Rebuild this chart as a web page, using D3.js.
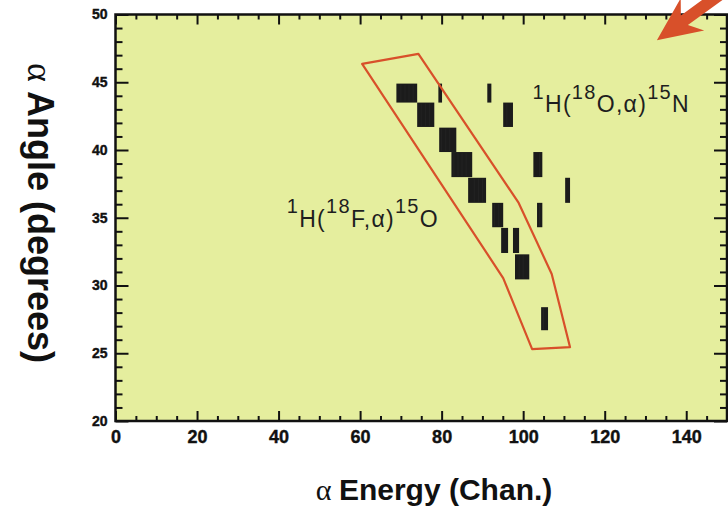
<!DOCTYPE html>
<html>
<head>
<meta charset="utf-8">
<script src="https://cdn.jsdelivr.net/npm/d3@7/dist/d3.min.js"></script>
<style>
  html, body { margin: 0; padding: 0; background: #ffffff; }
  svg { display: block; }
</style>
</head>
<body>
<svg id="chart" width="728" height="516"></svg>
<script>
// Axis ticks
const energyMajorTicks = [0, 20, 40, 60, 80, 100, 120, 140];
const angleMajorTicks = [20, 25, 30, 35, 40, 45, 50];

// Occupied histogram cells: energy range (channels) and angle range (degrees)
const cellEnergyLo = [68.9, 79.2, 91.2, 74.0, 95.1, 79.4, 82.4, 102.5, 86.5, 110.3, 92.4, 103.4, 94.6, 97.5, 98.0, 104.4];
const cellEnergyHi = [74.0, 80.1, 92.2, 78.2, 97.5, 83.6, 87.5, 104.7, 90.9, 111.5, 95.1, 104.7, 96.3, 99.0, 101.5, 106.1];
const cellAngleLo  = [43.5, 43.5, 43.5, 41.7, 41.7, 39.85, 38.0, 38.0, 36.1, 36.1, 34.3, 34.3, 32.4, 32.4, 30.45, 26.7];
const cellAngleHi  = [44.9, 44.9, 44.9, 43.5, 43.5, 41.65, 39.85, 39.85, 37.95, 37.95, 36.1, 36.1, 34.25, 34.25, 32.3, 28.4];

// Gate around the 1H(18F,a)15O locus
const gateEnergy = [60.5, 74.3, 98.9, 107.0, 111.5, 102.2, 95.1];
const gateAngle  = [46.35, 47.1, 36.09, 30.85, 25.45, 25.3, 30.55];

// Reaction labels (pieces flagged as superscript)
const labelReactionF = [["1", true], ["H(", false], ["18", true], ["F,\u03b1)", false], ["15", true], ["O", false]];
const labelReactionO = [["1", true], ["H(", false], ["18", true], ["O,\u03b1)", false], ["15", true], ["N", false]];
const labelEnergy = [42.0, 102.3];
const labelAngle  = [34.32, 42.8];

const svg = d3.select("#chart");
const x = d3.scaleLinear().domain([0, 150]).range([115.5, 727]);
const y = d3.scaleLinear().domain([20, 50]).range([421, 14.5]);

const ink = "#111111";
const gateRed = "#d8502a";

// plot background
svg.append("rect")
  .attr("x", x(0)).attr("y", y(50))
  .attr("width", x(150) - x(0)).attr("height", y(20) - y(50))
  .attr("fill", "#e5ee9e");

// histogram cells
const cells = d3.range(cellEnergyLo.length).map(i => ({
  e0: cellEnergyLo[i], e1: cellEnergyHi[i], a0: cellAngleLo[i], a1: cellAngleHi[i]
}));
svg.append("g").selectAll("rect").data(cells).join("rect")
  .attr("x", d => x(d.e0)).attr("y", d => y(d.a1))
  .attr("width", d => x(d.e1) - x(d.e0)).attr("height", d => y(d.a0) - y(d.a1))
  .attr("fill", "#1b1b1b");
// faint channel grid inside the cells
svg.append("g").selectAll("line").data(cells.flatMap(d => {
  const out = [];
  for (let e = Math.ceil(d.e0 + 0.6); e < d.e1 - 0.6; e += 1) out.push({ e, a0: d.a0, a1: d.a1 });
  return out;
})).join("line")
  .attr("x1", d => x(d.e)).attr("x2", d => x(d.e))
  .attr("y1", d => y(d.a1) + 1).attr("y2", d => y(d.a0) - 1)
  .attr("stroke", "#2b2b2b").attr("stroke-width", 0.5);

// gate polygon
svg.append("path")
  .datum(gateEnergy.map((e, i) => [x(e), y(gateAngle[i])]))
  .attr("d", d => d3.line()(d) + "Z")
  .attr("fill", "none").attr("stroke", gateRed).attr("stroke-width", 2.2)
  .attr("stroke-linejoin", "round");

// reaction labels
function reaction(pieces, e, a) {
  const t = svg.append("text")
    .attr("x", x(e)).attr("y", y(a))
    .attr("font-family", "Liberation Sans, Arial, Helvetica, sans-serif")
    .attr("fill", "#1e1e1e")
    .attr("letter-spacing", "1.3px");
  let raised = false;
  pieces.forEach(([s, sup]) => {
    const ts = t.append("tspan").text(s).attr("font-size", sup ? 20 : 23);
    if (sup && !raised) { ts.attr("dy", -13.5); raised = true; }
    else if (!sup && raised) { ts.attr("dy", 13.5); raised = false; }
  });
}
reaction(labelReactionF, labelEnergy[0], labelAngle[0]);
reaction(labelReactionO, labelEnergy[1], labelAngle[1]);

// ticks (all pointing into the plot)
const energyMinor = d3.range(0, 151, 5).filter(v => energyMajorTicks.indexOf(v) < 0);
const angleMinor = d3.range(20, 51, 1).filter(v => angleMajorTicks.indexOf(v) < 0);

function styleAxis(g) {
  g.select(".domain").remove();
  g.selectAll(".tick line").attr("stroke", ink).attr("stroke-width", 2);
}

svg.append("g").attr("transform", `translate(0,${y(20)})`)
  .call(d3.axisBottom(x).tickValues(energyMajorTicks).tickSizeInner(-10).tickSizeOuter(0).tickPadding(9))
  .call(styleAxis)
  .call(g => g.selectAll(".tick text")
    .attr("font-family", "Liberation Sans Narrow, Arial Narrow, Liberation Sans, sans-serif")
    .attr("font-weight", "bold").attr("font-size", 18).attr("fill", ink)
    .attr("stroke", ink).attr("stroke-width", 0.4));
svg.append("g").attr("transform", `translate(0,${y(20)})`)
  .call(d3.axisBottom(x).tickValues(energyMinor).tickSize(-5).tickFormat(""))
  .call(styleAxis);
svg.append("g").attr("transform", `translate(0,${y(50)})`)
  .call(d3.axisTop(x).tickValues(energyMajorTicks).tickSize(-10).tickFormat(""))
  .call(styleAxis);
svg.append("g").attr("transform", `translate(0,${y(50)})`)
  .call(d3.axisTop(x).tickValues(energyMinor).tickSize(-5).tickFormat(""))
  .call(styleAxis);

svg.append("g").attr("transform", `translate(${x(0)},0)`)
  .call(d3.axisLeft(y).tickValues(angleMajorTicks).tickSizeInner(-13).tickSizeOuter(0).tickPadding(8))
  .call(styleAxis)
  .call(g => g.selectAll(".tick text")
    .attr("font-family", "Liberation Sans, Arial, sans-serif")
    .attr("font-weight", "bold").attr("font-size", 14).attr("fill", ink)
    .attr("stroke", ink).attr("stroke-width", 0.4));
svg.append("g").attr("transform", `translate(${x(0)},0)`)
  .call(d3.axisLeft(y).tickValues(angleMinor).tickSize(-7).tickFormat(""))
  .call(styleAxis);
svg.append("g").attr("transform", `translate(${x(150)},0)`)
  .call(d3.axisRight(y).tickValues(angleMajorTicks).tickSize(-13).tickFormat(""))
  .call(styleAxis);
svg.append("g").attr("transform", `translate(${x(150)},0)`)
  .call(d3.axisRight(y).tickValues(angleMinor).tickSize(-7).tickFormat(""))
  .call(styleAxis);

// frame
svg.append("rect")
  .attr("x", x(0)).attr("y", y(50))
  .attr("width", x(150) - x(0)).attr("height", y(20) - y(50))
  .attr("fill", "none").attr("stroke", ink).attr("stroke-width", 2.5);

// pointer arrow in the top-right corner
const arrowTip = [132.8, 48.1];
const arrowAngle = -36 * Math.PI / 180;
const arrowShape = [[0, 0], [44, -20], [34, -6], [140, -6], [140, 6], [34, 6], [44, 20]];
const ca = Math.cos(arrowAngle), sa = Math.sin(arrowAngle);
svg.append("path")
  .datum(arrowShape.map(([u, v]) => [x(arrowTip[0]) + u * ca - v * sa, y(arrowTip[1]) + u * sa + v * ca]))
  .attr("d", d => d3.line()(d) + "Z")
  .attr("fill", gateRed);

// axis titles
const xTitle = svg.append("text")
  .attr("x", 434).attr("y", 500)
  .attr("text-anchor", "middle")
  .attr("font-family", "Liberation Sans, Arial, sans-serif")
  .attr("font-weight", "bold").attr("font-size", 30).attr("fill", ink);
xTitle.append("tspan").text("\u03b1 ").attr("font-family", "Liberation Serif, serif").attr("font-weight", "normal");
xTitle.append("tspan").text("Energy (Chan.)");

const yTitle = svg.append("text")
  .attr("transform", "translate(28,213) rotate(90)")
  .attr("text-anchor", "middle")
  .attr("font-family", "Liberation Sans, Arial, sans-serif")
  .attr("font-weight", "bold").attr("font-size", 36).attr("fill", ink);
yTitle.append("tspan").text("\u03b1 ").attr("font-family", "Liberation Serif, serif").attr("font-weight", "normal");
yTitle.append("tspan").text("Angle (degrees)");
</script>
</body>
</html>
